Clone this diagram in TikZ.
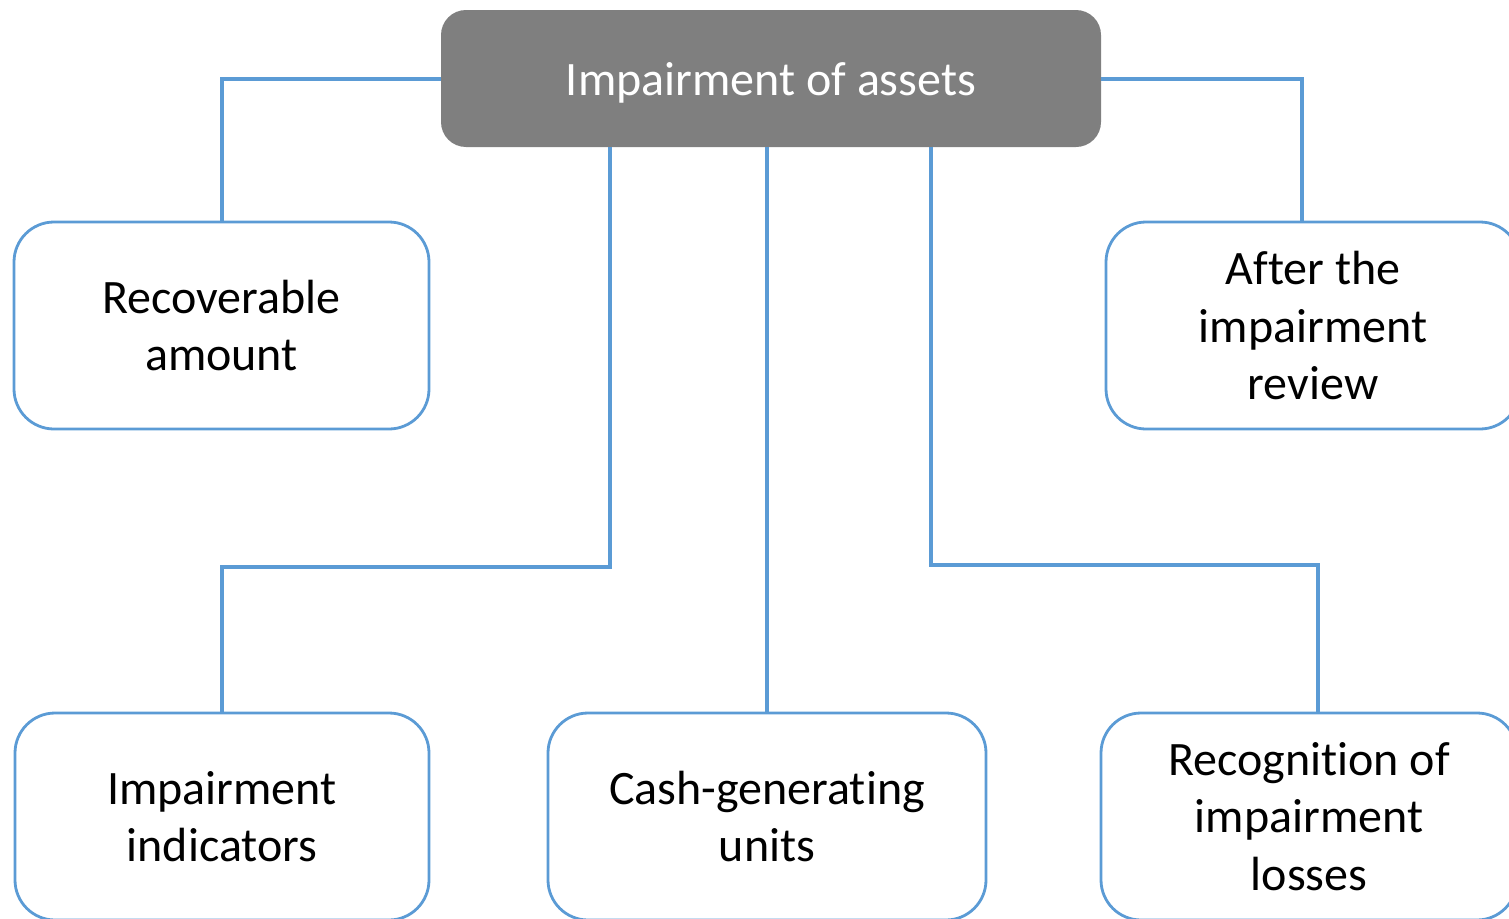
\documentclass[tikz,border=0pt]{standalone}
\usepackage{fontspec}
\setmainfont{Carlito}[Ligatures=NoCommon]
\definecolor{boxblue}{HTML}{5B9BD5}
\definecolor{topgray}{HTML}{7F7F7F}
\begin{document}
\begin{tikzpicture}[x=1pt,y=-1pt,
  topbox/.style={rectangle, rounded corners=25pt, fill=topgray, draw=none,
    minimum width=660pt, minimum height=137pt, text=white, align=center,
    font=\fontsize{48}{58}\selectfont, inner sep=0pt, text height=40pt, text depth=7pt},
  subbox/.style={rectangle, rounded corners=40pt, fill=white, draw=boxblue, line width=2.8pt,
    minimum height=207pt, align=center, font=\fontsize{48}{57.5}\selectfont, inner sep=0pt},
  conn/.style={draw=boxblue, line width=4pt}]
\useasboundingbox (0,0) rectangle (1509,918);
\clip (0,0) rectangle (1509,918);
\node[topbox] (top) at (771,78.5) {Impairment of assets};
\node[subbox, minimum width=415pt] (rec) at (221.5,325.5) {Recoverable\\amount};
\node[subbox, minimum width=414pt] (after) at (1313,325.5) {After the\\impairment\\review};
\node[subbox, minimum width=414pt] (ind) at (222,816.5) {Impairment\\indicators};
\node[subbox, minimum width=438pt] (cgu) at (767,816.5) {Cash-generating\\units};
\node[subbox, minimum width=416pt] (loss) at (1309,816.5) {Recognition of\\impairment\\losses};
\draw[conn] (top.west) -| (rec.north);
\draw[conn] (top.east) -| ([xshift=-11pt]after.north);
\draw[conn] ([xshift=-161pt]top.south) -- ++(0,420) -| (ind.north);
\draw[conn] (top.south -| cgu.north) -- (cgu.north);
\draw[conn] ([xshift=160pt]top.south) -- ++(0,418) -| ([xshift=9pt]loss.north);
\end{tikzpicture}
\end{document}
